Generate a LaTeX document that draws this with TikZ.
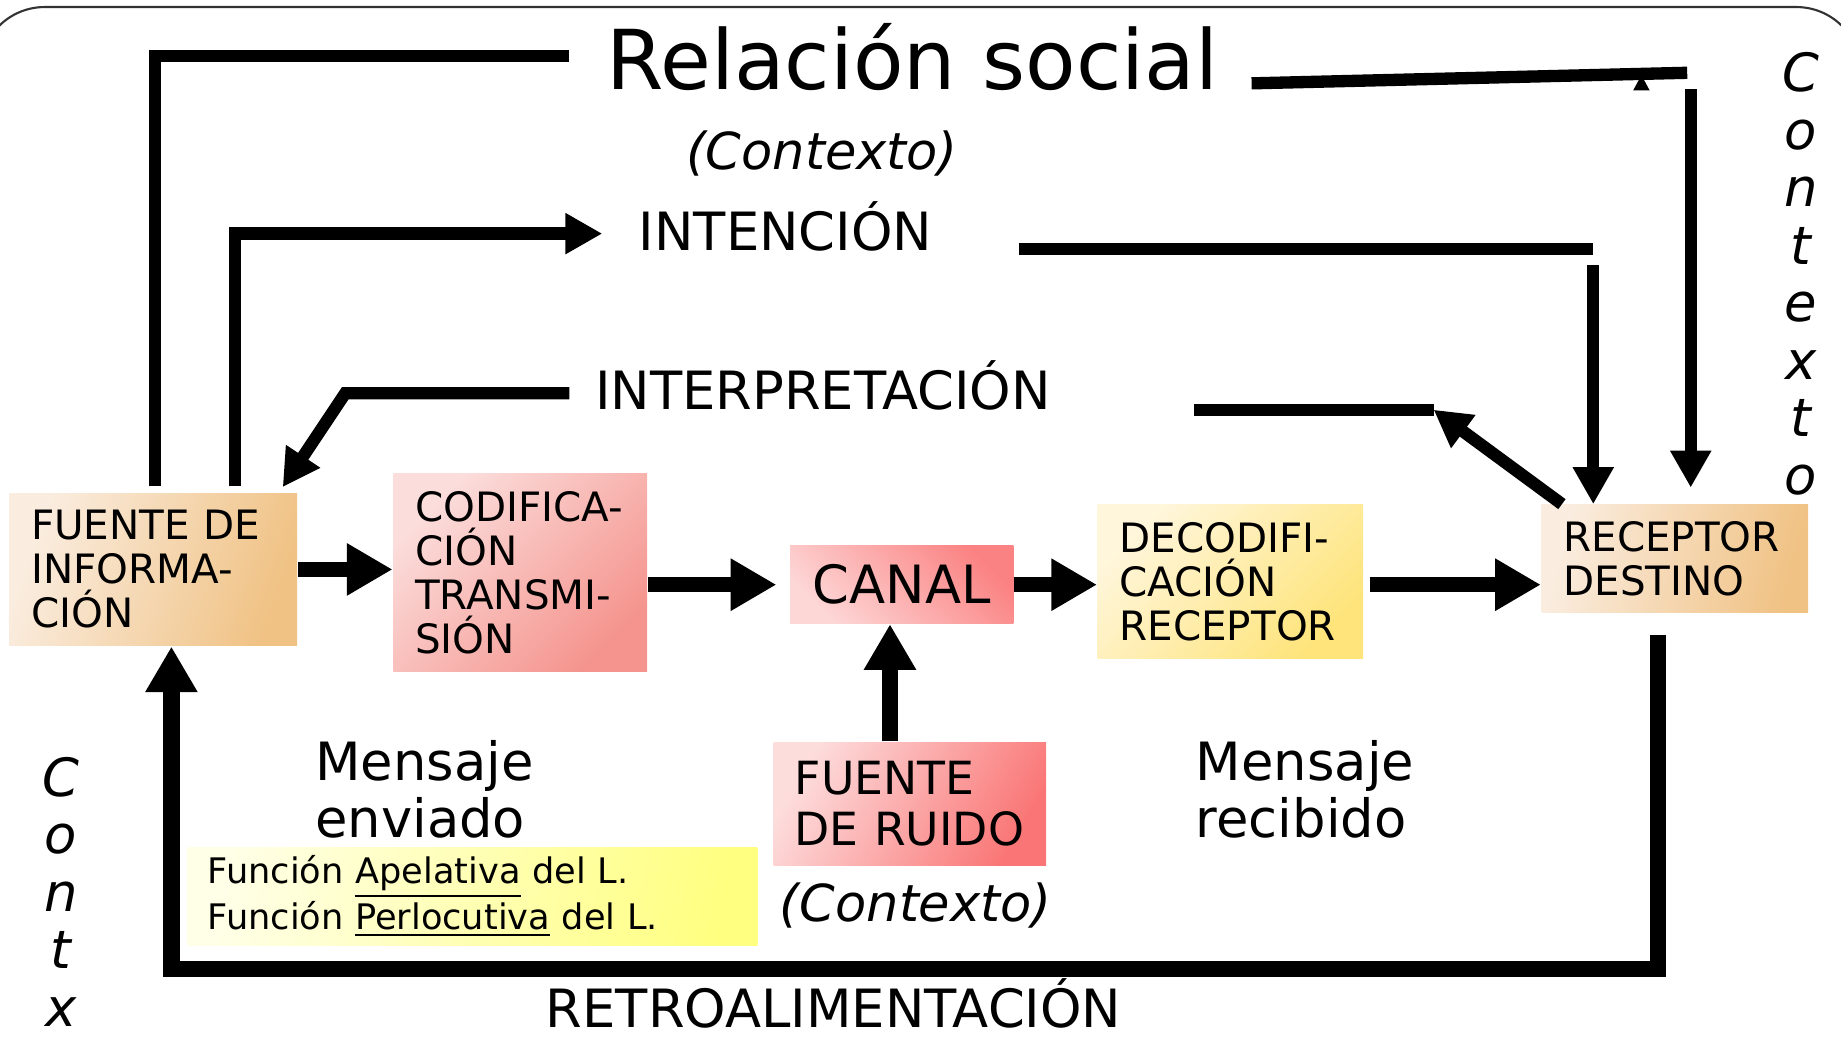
\documentclass[tikz,border=0pt]{standalone}
\usepackage{fontspec}
\setmainfont{DejaVu Sans}
\usetikzlibrary{arrows.meta,calc}
\definecolor{fiA}{HTML}{FAEDE0}
\definecolor{fiB}{HTML}{F0C284}
\definecolor{coA}{HTML}{FBDEDC}
\definecolor{coB}{HTML}{F5948E}
\definecolor{caA}{HTML}{FDD6D6}
\definecolor{caB}{HTML}{FB8282}
\definecolor{deA}{HTML}{FFF6DC}
\definecolor{deB}{HTML}{FEE47A}
\definecolor{ruA}{HTML}{FDDCDC}
\definecolor{ruB}{HTML}{FA7676}
\definecolor{yeA}{HTML}{FFFFE8}
\definecolor{yeB}{HTML}{FFFF80}
\tikzset{
  box/.style={inner xsep=6.2pt, inner ysep=0pt, align=left, anchor=center,
    font=\fontsize{11.5}{12.5}\selectfont},
  lbl/.style={inner sep=0pt, anchor=base, font=\fontsize{15}{18}\selectfont},
  ctxt/.style={inner sep=0pt, anchor=base, font=\fontsize{14.5}{17}\selectfont\itshape},
  vlet/.style={inner sep=0pt, anchor=base, font=\fontsize{15}{18}\selectfont\itshape},
  msg/.style={inner sep=0pt, anchor=base west, font=\fontsize{15}{18}\selectfont},
  conn/.style={line width=3.5pt},
  connarr/.style={line width=3.5pt, -{Triangle[length=10.5pt,width=11pt]}},
  mainarr/.style={line width=4.3pt, -{Triangle[length=13pt,width=14pt]}},
  looparr/.style={line width=4.6pt, -{Triangle[length=13pt,width=14pt]}},
}
\begin{document}
\hyphenpenalty=10000\relax
\exhyphenpenalty=10000\relax
\begin{tikzpicture}[x=0.011741cm, y=-0.011741cm]
\useasboundingbox (0,0) rectangle (1568,885);
\begin{scope}
  \clip (0,0) rectangle (1568,885);
  \draw[line width=0.6pt, draw=black!80, rounded corners=18.4pt] (-17,6) rectangle (1585,1100);
\end{scope}

% boxes
\node[box, text width=69.44pt, minimum height=43.43pt,
  top color=fiA, bottom color=fiB, shading angle=70] (fi) at (130.5,485) {FUENTE\ DE\\INFORMA-\\CIÓN};
\node[box, text width=59.75pt, minimum height=56.45pt,
  top color=coA, bottom color=coB, shading angle=45] (codif) at (443,487.5) {CODIFICA-\\CIÓN\\TRANSMI-\\SIÓN};
\node[inner sep=0pt, minimum width=63.47pt, minimum height=22.05pt, font=\fontsize{15}{18}\selectfont,
  top color=caA, bottom color=caB, shading angle=135] (canal) at (768,498) {CANAL};
\node[box, text width=63.09pt, minimum height=43.76pt,
  top color=deA, bottom color=deB, shading angle=45] (decod) at (1048,495.5) {DECODIFI-\\CACIÓN\\RECEPTOR};
\node[box, text width=63.43pt, minimum height=30.73pt,
  top color=fiA, bottom color=fiB, shading angle=75] (recep) at (1426.5,476) {RECEPTOR\\DESTINO};
\node[box, inner xsep=6pt, text width=65.5pt, minimum height=35.07pt, font=\fontsize{13}{14.7}\selectfont,
  top color=ruA, bottom color=ruB, shading angle=60] (ruido) at (775,684.5) {FUENTE\\\mbox{DE RUIDO}};
\node[box, inner xsep=5.7pt, text width=150.6pt, minimum height=27.73pt, font=\fontsize{10}{10.8}\selectfont,
  top color=yeA, bottom color=yeB, shading angle=80] (func) at (402.5,763.5)
  {Función \underline{Apelativa} del L.\\Función \underline{Perlocutiva} del L.};

% texts
\node[inner sep=0pt, anchor=base, font=\fontsize{23.5}{28}\selectfont] (rsoc) at (777,76) {Relación social};
\node[ctxt] (ctx1) at (700,144) {(Contexto)};
\node[lbl] (inten) at (669,213) {INTENCIÓN};
\node[lbl] (interp) at (701,349) {INTERPRETACIÓN};
\node[msg] (menv1) at (268,665) {Mensaje};
\node[msg] (menv2) at (268,713) {enviado};
\node[msg] (mrec1) at (1018,665) {Mensaje};
\node[msg] (mrec2) at (1018,713) {recibido};
\node[ctxt] (ctx2) at (780,785) {(Contexto)};
\node[lbl] (retro) at (710,875) {RETROALIMENTACIÓN};
\foreach \ch/\yy [count=\i] in {C/78, o/127, n/176, t/225, e/274, x/323, t/372, o/421}
  \node[vlet] (cr\i) at (1534,\yy) {\ch};
\foreach \ch/\yy [count=\i] in {C/678, o/727, n/776, t/825, x/874}
  \node[vlet] (cl\i) at (52,\yy) {\ch};

% coordinates
\coordinate (rsx) at (132,0);
\coordinate (rsl) at (485,48);
\coordinate (rsr1) at (1066,71);
\coordinate (rsr2) at (1437,62);
\coordinate (cx) at (1440,76);
\coordinate (inx) at (200,0);
\coordinate (inend) at (513,199);
\coordinate (inr1) at (868,212);
\coordinate (inr2) at (1357,212);
\coordinate (ina) at (1357,226);
\coordinate (ipl1) at (485,335);
\coordinate (ipl2) at (294,335);
\coordinate (ipr1) at (1017,349);
\coordinate (ipr2) at (1221,349);
\coordinate (nx) at (758,0);
\coordinate (rx) at (1412,0);
\coordinate (lx) at (146,0);
\coordinate (by) at (0,825);

% main row
\draw[mainarr] (fi.east) -- (fi.east -| codif.west);
\draw[mainarr, shorten >=3.7pt] (codif.east |- canal.center) -- (canal.west);
\draw[mainarr] (canal.east) -- (decod.west |- canal.center);
\draw[mainarr, shorten <=1.7pt] (decod.east |- canal.center) -- (recep.west |- canal.center);
\draw[mainarr] (ruido.north -| nx) -- (canal.south -| nx);

% feedback loop
\draw[looparr, shorten <=6pt] (recep.south -| rx) -- (rx |- by) -- (lx |- by) -- (fi.south -| lx);

% relacion social
\draw[conn, shorten <=1.7pt] (fi.north -| rsx) -- (rsx |- rsl) -- (rsl);
\fill (1391,77) -- (1398,64) -- (1405,77) -- cycle;
\draw[conn] (rsr1) -- (rsr2);
\draw[connarr, shorten >=4.7pt] (cx) -- (recep.north -| cx);

% intencion
\draw[connarr, shorten <=1.7pt] (fi.north -| inx) -- (inx |- inend) -- (inend);
\draw[conn] (inr1) -- (inr2);
\draw[connarr] (ina) -- (recep.north -| ina);

% interpretacion
\draw[connarr] (ipl1) -- (ipl2) -- ([xshift=-4.3pt,yshift=1.5pt]fi.north east);
\draw[conn] (ipr1) -- (ipr2);
\draw[connarr] ([xshift=6pt]recep.north west) -- (ipr2);
\end{tikzpicture}
\end{document}
